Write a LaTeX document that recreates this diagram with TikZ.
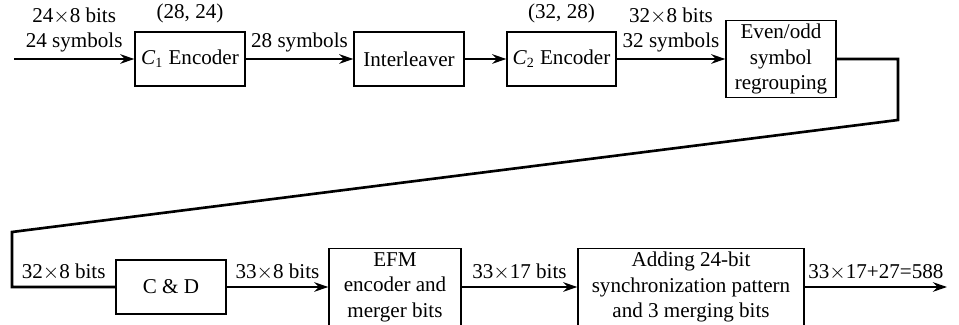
\documentclass[tikz,border=0pt]{standalone}
\usepackage{fontspec}
\setmainfont{Liberation Serif}
\usetikzlibrary{arrows.meta,positioning}

\begin{document}
\begin{tikzpicture}[
 block/.style={draw,line width=.8pt,minimum width=2.2cm,minimum height=1.08cm,align=center,inner sep=2pt},
 tall/.style={block,minimum height=1.54cm},
 link/.style={line width=1.5pt},
 flow/.style={link,-{Stealth[length=2.8mm,width=1.9mm]}},
 tag/.style={above,align=center,inner sep=3pt},
 every node/.style={font=\fontsize{12}{14.5}\selectfont}]
 \useasboundingbox (0,0) rectangle (19.18,6.5);
 % upper row
 \coordinate (in) at (0.28,5.32);
 \node[block] (c1) at (3.8,5.32) {\textit{C}\textsubscript{1} Encoder};
 \node[block] (ilv) at (8.18,5.32) {Interleaver};
 \node[block,minimum width=2.18cm] (c2) at (11.23,5.32) {\textit{C}\textsubscript{2} Encoder};
 \node[tall] (eo) at (15.62,5.32) {Even/odd\\symbol\\regrouping};
 \node[above=1pt of c1] (c1code) {(28, 24)};
 \node[above=1pt of c2] (c2code) {(32, 28)};
 \draw[flow] (in) -- node[tag]{24$\times$8 bits\\24 symbols} (c1);
 \draw[flow] (c1) -- node[tag]{28 symbols} (ilv);
 \draw[flow] (ilv) -- (c2);
 \draw[flow] (c2) -- node[tag]{32$\times$8 bits\\32 symbols} (eo);
 % lower row
 \coordinate (turnA) at (17.96,4.1);
 \coordinate (turnB) at (0.24,1.86);
 \coordinate (out) at (18.94,0.76);
 \node[block] (cd) at (3.42,0.76) {C \& D};
 \node[tall,minimum width=2.64cm] (efm) at (7.9,0.76) {EFM\\encoder and\\merger bits};
 \node[tall,minimum width=4.52cm] (sync) at (13.82,0.76) {Adding 24-bit\\synchronization pattern\\and 3 merging bits};
 \draw[link] (eo.east) -| (turnA) -- (turnB) |- node[pos=0.75,tag]{32$\times$8 bits} (cd.west);
 \draw[flow] (cd) -- node[tag]{33$\times$8 bits} (efm);
 \draw[flow] (efm) -- node[tag]{33$\times$17 bits} (sync);
 \draw[flow] (sync) -- node[tag]{33$\times$17+27=588} (out);
\end{tikzpicture}
\end{document}
